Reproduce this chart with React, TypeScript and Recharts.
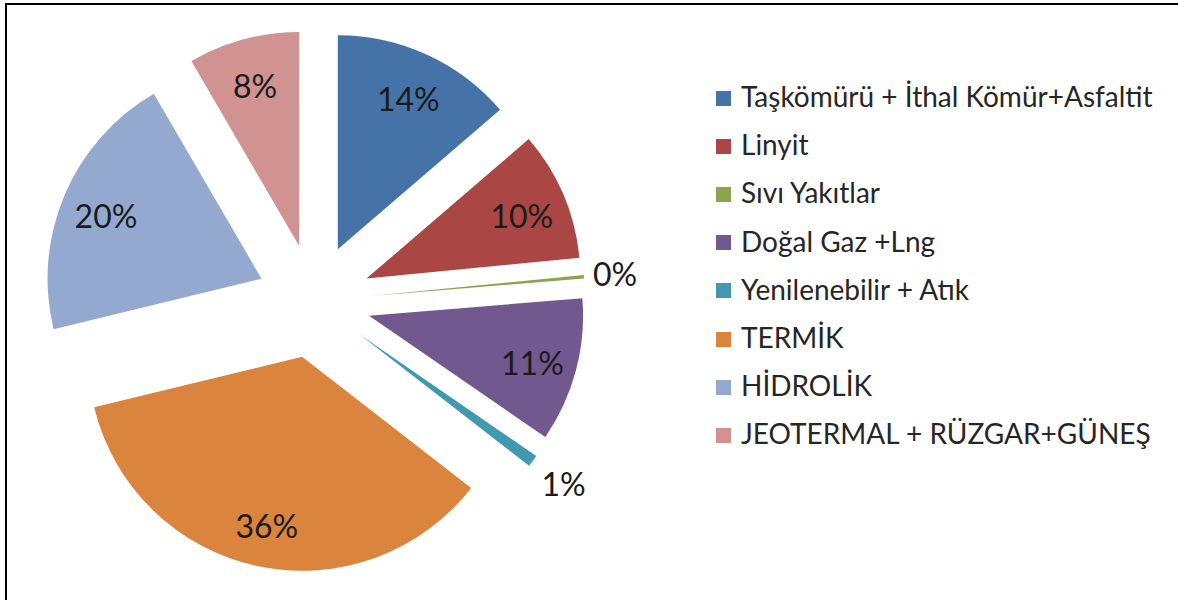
import React from "react";
import { PieChart, Pie, Cell, Sector, Legend } from "recharts";

const categories = [
  "Taşkömürü + İthal Kömür+Asfaltit",
  "Linyit",
  "Sıvı Yakıtlar",
  "Doğal Gaz +Lng",
  "Yenilenebilir + Atık",
  "TERMİK",
  "HİDROLİK",
  "JEOTERMAL + RÜZGAR+GÜNEŞ",
];
const shares = [13.7, 9.75, 0.25, 10.9, 0.9, 35.7, 20.4, 8.4];
const colors = [
  "#4572A7",
  "#AA4643",
  "#89A54E",
  "#71588F",
  "#4198AF",
  "#DB843D",
  "#93A9CF",
  "#D19392",
];

const data = categories.map((name, i) => ({ name, value: shares[i] }));

const FONT = "Lato, 'Open Sans', sans-serif";
const EXPLODE = 57;
const RADIAN = Math.PI / 180;

// every slice pulled out along its bisector, like Excel's exploded pie
function ExplodedSlice(props: any) {
  const { cx, cy, midAngle, innerRadius, outerRadius, startAngle, endAngle, fill } = props;
  const dx = EXPLODE * Math.cos(-midAngle * RADIAN);
  const dy = EXPLODE * Math.sin(-midAngle * RADIAN);
  return (
    <Sector
      cx={cx + dx}
      cy={cy + dy}
      innerRadius={innerRadius}
      outerRadius={outerRadius}
      startAngle={startAngle}
      endAngle={endAngle}
      fill={fill}
      stroke="none"
    />
  );
}

function SliceLabel(props: any) {
  const { cx, cy, midAngle, outerRadius, percent } = props;
  const ux = Math.cos(-midAngle * RADIAN);
  const uy = Math.sin(-midAngle * RADIAN);
  const ex = cx + EXPLODE * ux;
  const ey = cy + EXPLODE * uy;
  const small = percent < 0.02;
  const dist = small ? outerRadius + 30 + 14 * Math.abs(uy) : outerRadius * 0.79;
  return (
    <text
      x={ex + dist * ux}
      y={ey + dist * uy + (small ? 0 : 3)}
      textAnchor="middle"
      dominantBaseline="central"
      fill="#1b1b1b"
      fontFamily={FONT}
      fontSize={32}
    >
      {`${Math.round(percent * 100)}%`}
    </text>
  );
}

// legend kept in the data order (recharts would sort it by name)
function LegendList() {
  return (
    <div style={{ fontFamily: FONT, fontSize: 28, color: "#262626" }}>
      {categories.map((name, i) => (
        <div
          key={name}
          style={{ display: "flex", alignItems: "center", height: 48.2, whiteSpace: "nowrap" }}
        >
          <span
            style={{
              display: "inline-block",
              width: 15,
              height: 15,
              marginTop: 4,
              marginRight: 10,
              background: colors[i],
            }}
          />
          <span>{name}</span>
        </div>
      ))}
    </div>
  );
}

export default function App() {
  return (
    <div
      style={{
        position: "absolute",
        left: 0,
        top: 0,
        width: 1178,
        height: 600,
        background: "#fff",
        overflow: "hidden",
      }}
    >
      <div
        style={{
          position: "absolute",
          left: 5,
          top: 3,
          width: 1200,
          height: 640,
          borderLeft: "2px solid #000",
          borderTop: "2px solid #000",
        }}
      />
      <PieChart width={1178} height={600} margin={{ top: 0, right: 0, bottom: 0, left: 0 }}>
        <Pie
          data={data}
          dataKey="value"
          nameKey="name"
          cx={314}
          cy={301}
          outerRadius={214}
          startAngle={90}
          endAngle={-270}
          stroke="none"
          shape={ExplodedSlice}
          label={SliceLabel}
          labelLine={false}
          isAnimationActive={false}
        >
          {data.map((d, i) => (
            <Cell key={d.name} fill={colors[i]} />
          ))}
        </Pie>
        <Legend
          layout="vertical"
          align="right"
          verticalAlign="top"
          content={<LegendList />}
          wrapperStyle={{ left: 716, top: 72, width: 460 }}
        />
      </PieChart>
    </div>
  );
}
